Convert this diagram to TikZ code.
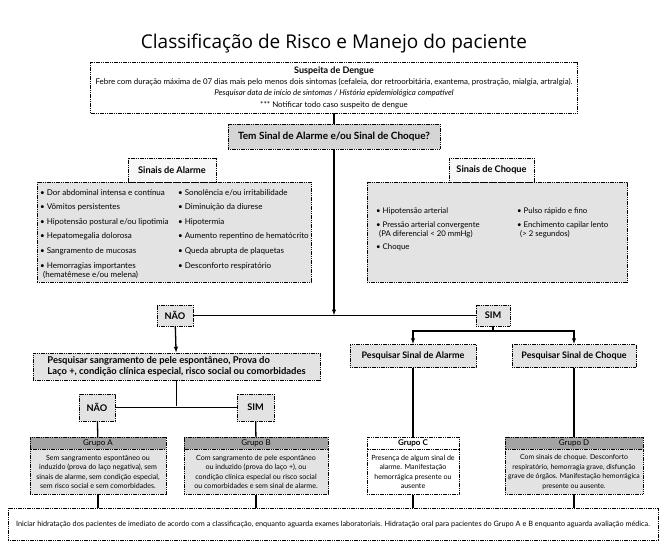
\documentclass[tikz,border=0pt]{standalone}
\usepackage{fontspec}
\setmainfont{Lato}
\newfontfamily\titlefont{Open Sans}
\usetikzlibrary{positioning,arrows.meta,calc}
\definecolor{boxgray}{HTML}{E3E3E3}
\definecolor{temgray}{HTML}{D5D5D5}
\definecolor{hdrgray}{HTML}{A3A3A3}

\begin{document}
\begin{tikzpicture}[x=1pt, y=-1pt,
   frame/.style={draw, dash pattern=on 1.2pt off 0.6pt, line width=0.45pt,
                 inner sep=1pt, align=center, font=\fontsize{6.9}{8.4}\selectfont},
   grey/.style={frame, fill=boxgray},
   tagbox/.style={grey, font=\bfseries\fontsize{9.2}{11}\selectfont},
   listtxt/.style={inner sep=0pt, align=left, font=\fontsize{8}{9.6}\selectfont},
   ghead/.style={frame, fill=hdrgray, minimum height=12, text=black, font=\fontsize{8}{9}\selectfont},
   gbody/.style={grey, minimum height=45, font=\fontsize{7.1}{9.4}\selectfont},
   wire/.style={line width=1.3pt},
   >={Latex[length=6pt,width=4.5pt]}]
  \useasboundingbox (0,0) rectangle (666,546);
  \node[font=\titlefont\fontsize{19}{22}\selectfont] (title) at (334,44)
    {Classificação de Risco e Manejo do paciente};
  \node[frame, minimum width=487, minimum height=51, font=\fontsize{7.9}{11.3}\selectfont] (suspeita) at (334,87.5)
    {{\bfseries\fontsize{9}{10}\selectfont Suspeita de Dengue}\\
     Febre com duração máxima de 07 dias mais pelo menos dois sintomas (cefaleia, dor retroorbitária, exantema, prostração, mialgia, artralgia).\\
     \textit{Pesquisar data de início de sintomas / História epidemiológica compatível}\\
     *** Notificar todo caso suspeito de dengue};
  \node[tagbox, fill=temgray, minimum width=212, minimum height=25, font=\bfseries\fontsize{10}{12}\selectfont] (temsinal) at (334,136.5)
    {Tem Sinal de Alarme e/ou Sinal de Choque?};

  % Sinais de alarme / choque
  \node[grey, minimum width=274, minimum height=100] (alarmelist) at (174,232) {};
  \node[tagbox, fill=white!70!boxgray, minimum width=88, minimum height=24] (alarmehdr) at (172,170) {Sinais de Alarme};
  \node[listtxt, anchor=north west] (alarmecol1) at (40,189)
    {• Dor abdominal intensa e contínua\\[5pt] • Vômitos persistentes\\[5pt]
     • Hipotensão postural e/ou lipotimia\\[5pt] • Hepatomegalia dolorosa\\[5pt]
     • Sangramento de mucosas\\[5pt] • Hemorragias importantes\\ \hspace{3pt}(hematêmese e/ou melena)};
  \node[listtxt, anchor=north west] (alarmecol2) at (178,189)
    {• Sonolência e/ou irritabilidade\\[5pt] • Diminuição da diurese\\[5pt]
     • Hipotermia\\[5pt] • Aumento repentino de hematócrito\\[5pt]
     • Queda abrupta de plaquetas\\[5pt] • Desconforto respiratório};
  \node[grey, minimum width=260, minimum height=100] (choquelist) at (497,232) {};
  \node[tagbox, fill=white!70!boxgray, minimum width=85, minimum height=24] (choquehdr) at (491.5,170) {Sinais de Choque};
  \node[listtxt, anchor=north west, font=\fontsize{7.8}{9.2}\selectfont] (choquecol1) at (376,208)
    {• Hipotensão arterial\\[4pt] • Pressão arterial convergente\\ \hspace{3pt}(PA diferencial < 20 mmHg)\\[4pt] • Choque};
  \node[listtxt, anchor=north west, font=\fontsize{7.8}{9.2}\selectfont] (choquecol2) at (517,208)
    {• Pulso rápido e fino\\[4pt] • Enchimento capilar lento\\ \hspace{3pt}(> 2 segundos)};

  % primeira decisao
  \node[tagbox, minimum width=36, minimum height=21] (nao1) at (175,315.5) {NÃO};
  \node[tagbox, minimum width=34, minimum height=21] (sim1) at (493,315.5) {SIM};
  \coordinate (split) at (334,315.5);
  \node[grey, minimum width=287, minimum height=27, align=left, font=\bfseries\fontsize{9.4}{11.5}\selectfont] (pesqsang) at (176.5,366.5)
    {Pesquisar sangramento de pele espontâneo, Prova do\\Laço +, condição clínica especial, risco social ou comorbidades};
  \coordinate (simfork) at (493,331);
  \node[grey, minimum width=126, minimum height=23, font=\bfseries\fontsize{9}{10}\selectfont] (pesqalarme) at (413,356) {Pesquisar Sinal de Alarme};
  \node[grey, minimum width=124, minimum height=23, font=\bfseries\fontsize{9}{10}\selectfont] (pesqchoque) at (574,356) {Pesquisar Sinal de Choque};

  % segunda decisao
  \node[tagbox, minimum width=36, minimum height=27] (nao2) at (97,407.5) {NÃO};
  \node[tagbox, minimum width=37, minimum height=27] (sim2) at (255.5,407.5) {SIM};
  \coordinate (nsfork) at (176.5,406);

  % grupos
  \node[ghead, minimum width=136] (grupoAh) at (98,443) {Grupo A};
  \node[gbody, minimum width=136, below=0pt of grupoAh] (grupoA)
    {Sem sangramento espontâneo ou\\induzido (prova do laço negativa), sem\\sinais de alarme, sem condição especial,\\sem risco social e sem comorbidades.};
  \node[ghead, minimum width=144] (grupoBh) at (256,443) {Grupo B};
  \node[gbody, minimum width=144, below=0pt of grupoBh] (grupoB)
    {Com sangramento de pele espontâneo\\ou induzido (prova do laço +), ou\\condição clínica especial ou risco social\\ou comorbidades e sem sinal de alarme.};
  \node[ghead, fill=white, font=\bfseries\fontsize{8}{9}\selectfont, minimum width=92] (grupoCh) at (413,443) {Grupo C};
  \node[gbody, fill=white, minimum width=92, below=0pt of grupoCh] (grupoC)
    {Presença de algum sinal de\\alarme. Manifestação\\hemorrágica presente ou\\ausente};
  \node[ghead, minimum width=138] (grupoDh) at (574,443) {Grupo D};
  \node[gbody, minimum width=138, below=0pt of grupoDh, font=\fontsize{6.9}{9.4}\selectfont] (grupoD)
    {Com sinais de choque. Desconforto\\respiratório, hemorragia grave, disfunção\\grave de órgãos. Manifestação hemorrágica\\presente ou ausente.};
  \node[frame, minimum width=650, minimum height=32, font=\fontsize{7.3}{9}\selectfont] (hidrata) at (333,524)
    {Iniciar hidratação dos pacientes de imediato de acordo com a classificação, enquanto aguarda exames laboratoriais. Hidratação oral para pacientes do Grupo A e B enquanto aguarda avaliação médica.};

  % ligacoes
  \draw[wire] (suspeita) -- (temsinal);
  \draw[wire,->] (temsinal) -- (split);
  \draw[wire] (nao1) -- (sim1);
  \draw[wire,->] (nao1) -- (pesqsang);
  \draw[wire] (sim1) -- (simfork);
  \draw[wire,->] (simfork) -| (pesqalarme);
  \draw[wire,->] (simfork) -| (pesqchoque);
  \draw[wire] (pesqsang) -- (nsfork);
  \draw[wire] (nao2) -- (sim2);
  \draw[wire] (nao2) -- (grupoAh);
  \draw[wire] (sim2) -- (grupoBh);
  \draw[wire] (pesqalarme) -- (grupoCh);
  \draw[wire] (pesqchoque) -- (grupoDh);
  \draw[wire] (grupoA) -- (grupoA |- hidrata.north);
  \draw[wire] (grupoB) -- (grupoB |- hidrata.north);
  \draw[wire] (grupoC) -- (grupoC |- hidrata.north);
  \draw[wire] (grupoD) -- (grupoD |- hidrata.north);
\end{tikzpicture}
\end{document}
